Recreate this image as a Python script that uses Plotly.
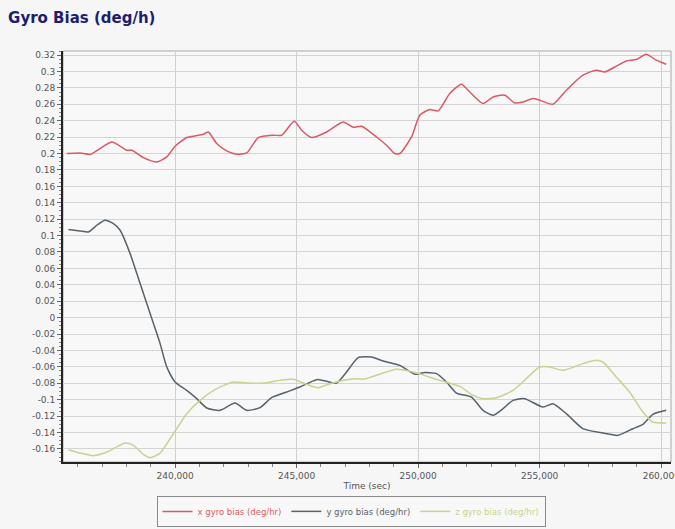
import plotly.graph_objects as go

# x gyro bias (deg/hr)
x_time = [235550, 236096, 236507, 237399, 238015, 238221, 238697, 239248, 239659, 240000,
          240481, 241163, 241368, 241713, 242124, 242535, 242946, 243423, 244039, 244384,
          244902, 245206, 245617, 246233, 246915, 247326, 247672, 248288, 248699, 249040,
          249245, 249726, 250067, 250478, 250819, 251300, 251781, 252052, 252668, 253079,
          253560, 253971, 254312, 254723, 254998, 255545, 256095, 256777, 257328, 257669,
          258149, 258560, 258971, 259382, 259793, 260204]
x_bias = [0.200, 0.2007, 0.199, 0.2141, 0.204, 0.204, 0.195, 0.1898, 0.1959, 0.2089,
          0.2195, 0.2235, 0.2263, 0.2122, 0.2032, 0.1991, 0.2007, 0.2195, 0.2223, 0.2223,
          0.2394, 0.2284, 0.2195, 0.2263, 0.2385, 0.232, 0.2333, 0.2202, 0.2101, 0.200,
          0.200, 0.2202, 0.2467, 0.2537, 0.252, 0.2732, 0.2845, 0.2772, 0.261, 0.269,
          0.2711, 0.2617, 0.2629, 0.2671, 0.265, 0.2601, 0.2772, 0.2955, 0.3016, 0.2995,
          0.3065, 0.3129, 0.3146, 0.3211, 0.3138, 0.3089]

# y gyro bias (deg/hr)
y_time = [235616, 236096, 236438, 236783, 237124, 237465, 237740, 238151, 238562, 238973,
          239384, 239659, 240000, 240481, 240892, 241303, 241849, 242465, 242946, 243493,
          243973, 244590, 245136, 245822, 246233, 246644, 247055, 247532, 248082, 248559,
          249245, 249862, 250203, 250753, 251164, 251575, 252191, 252668, 253079, 253490,
          253901, 254382, 255133, 255545, 256095, 256777, 257599, 258215, 258832, 259243,
          259654, 260204]
y_bias = [0.1073, 0.1056, 0.1044, 0.1126, 0.1187, 0.1146, 0.1065, 0.078, 0.0415, 0.0049,
          -0.0317, -0.0602, -0.0785, -0.0887, -0.0988, -0.1102, -0.113, -0.1041, -0.113, -0.1098,
          -0.0976, -0.0907, -0.0846, -0.0756, -0.0777, -0.0798, -0.0663, -0.0488, -0.048, -0.0529,
          -0.0582, -0.0691, -0.0671, -0.0683, -0.0785, -0.092, -0.0968, -0.113, -0.1191, -0.111,
          -0.1009, -0.0988, -0.109, -0.1049, -0.1171, -0.1354, -0.1407, -0.1435, -0.1354, -0.1301,
          -0.1179, -0.113]

# z gyro bias (deg/hr)
z_time = [235616, 236096, 236643, 237194, 237945, 238287, 238697, 238973, 239384, 239930,
          240481, 241027, 241713, 242396, 242946, 243768, 244314, 244861, 245412, 245888,
          246369, 247055, 247532, 247737, 248559, 249110, 249792, 250889, 251711, 252257,
          252668, 253219, 253901, 254587, 254998, 255409, 255955, 256777, 257328, 257599,
          258149, 258696, 259243, 259654, 260204]
z_bias = [-0.161, -0.1651, -0.1683, -0.1639, -0.1529, -0.1557, -0.1667, -0.1707, -0.1651, -0.1415,
          -0.1171, -0.1009, -0.0866, -0.0785, -0.0798, -0.0793, -0.0765, -0.0752, -0.0813, -0.0854,
          -0.0805, -0.0756, -0.0744, -0.0752, -0.0676, -0.063, -0.0663, -0.0765, -0.0838, -0.0948,
          -0.0988, -0.0976, -0.0887, -0.0704, -0.0602, -0.0602, -0.0643, -0.0561, -0.0521, -0.0541,
          -0.0724, -0.0907, -0.1151, -0.1273, -0.1285]

y_tickvals = [0.32, 0.3, 0.28, 0.26, 0.24, 0.22, 0.2, 0.18, 0.16, 0.14, 0.12, 0.1, 0.08, 0.06,
              0.04, 0.02, 0, -0.02, -0.04, -0.06, -0.08, -0.1, -0.12, -0.14, -0.16]
y_ticktext = ["0.32", "0.3", "0.28", "0.26", "0.24", "0.22", "0.2", "0.18", "0.16", "0.14",
              "0.12", "0.1", "0.08", "0.06", "0.04", "0.02", "0", "-0.02", "-0.04", "-0.06",
              "-0.08", "-0.1", "-0.12", "-0.14", "-0.16"]
x_tickvals = [240000, 245000, 250000, 255000, 260000]
x_ticktext = ["240,000", "245,000", "250,000", "255,000", "260,000"]

RED = "#d85a64"
GREY = "#56626c"
GREEN = "#c5d48e"

fig = go.Figure()
for t, v, col, label in [(x_time, x_bias, RED, "x gyro bias (deg/hr)"),
                         (y_time, y_bias, GREY, "y gyro bias (deg/hr)"),
                         (z_time, z_bias, GREEN, "z gyro bias (deg/hr)")]:
    fig.add_trace(go.Scatter(x=t, y=v, mode="lines", line=dict(color=col, width=1.5, shape="spline", smoothing=0.6),
                             name="<span style='color:%s'>%s</span>" % (col, label)))

# grey frame on top/right
fig.add_shape(type="rect", xref="paper", yref="paper", x0=0, x1=1, y0=0, y1=1,
              line=dict(color="#a8a8a8", width=1), layer="below")

fig.update_layout(
    width=675, height=529,
    paper_bgcolor="#f6f6f6", plot_bgcolor="#f8f8f8",
    margin=dict(l=63, r=4, t=51, b=67),
    font=dict(family="DejaVu Sans", size=9, color="#555555"),
    title=dict(text="<b>Gyro Bias (deg/h)</b>", x=0.012, xanchor="left", y=0.966, yanchor="middle",
               font=dict(family="DejaVu Sans", size=15, color="#1e1e70")),
    legend=dict(orientation="h", xref="container", yref="container",
                x=0.52, xanchor="center", y=0.004, yanchor="bottom",
                bordercolor="#8a8a8a", borderwidth=1, bgcolor="#f8f8f8",
                font=dict(size=8.5), itemwidth=30, tracegroupgap=0),
    xaxis=dict(range=[235390, 260400], tickvals=x_tickvals, ticktext=x_ticktext,
               showgrid=True, gridcolor="#cfcfcf", gridwidth=1, zeroline=False,
               showline=True, linecolor="#222222", linewidth=2, automargin=False,
               ticks="outside", ticklen=4, tickcolor="#666666", ticklabeloverflow="allow",
               minor=dict(dtick=1000, ticks="outside", ticklen=3, tickcolor="#888888", showgrid=False),
               title=dict(text="Time (sec)", font=dict(size=9, color="#555555"), standoff=3)),
    yaxis=dict(range=[-0.176, 0.325], tickvals=y_tickvals, ticktext=y_ticktext,
               showgrid=True, gridcolor="#d4d4d4", gridwidth=1, zeroline=False,
               showline=True, linecolor="#222222", linewidth=2, automargin=False,
               ticks="outside", ticklen=4, tickcolor="#666666",
               minor=dict(dtick=0.005, ticks="outside", ticklen=2, tickcolor="#888888", showgrid=False)),
)

fig.write_html("out.html", config={"displayModeBar": False},
               post_script="document.body.style.margin='0px';")
